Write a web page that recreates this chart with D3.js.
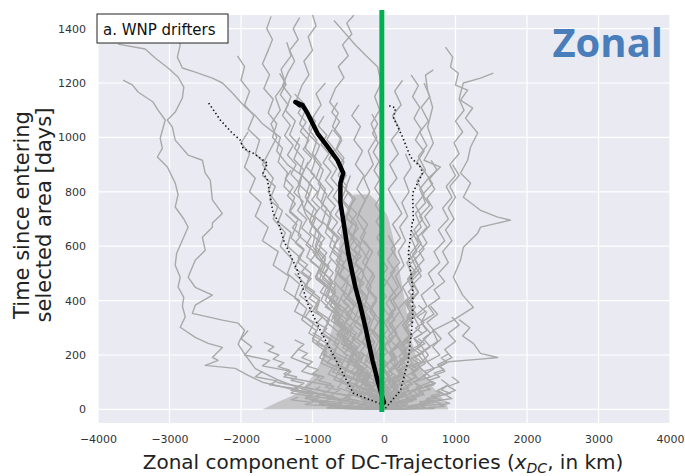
<!DOCTYPE html>
<html>
<head>
<meta charset="utf-8">
<script src="https://d3js.org/d3.v7.min.js"></script>
<style>
  body { margin: 0; background: #ffffff; }
  text { font-family: "DejaVu Sans", sans-serif; }
</style>
</head>
<body>
<div id="chart"></div>
<script>
// Axis ticks
var xTicks = [-4000, -3000, -2000, -1000, 0, 1000, 2000, 3000, 4000];
var yTicks = [0, 200, 400, 600, 800, 1000, 1200, 1400];

// Mean trajectory [x km, days]
var meanLine = [[0, 25], [-40, 60], [-90, 107], [-160, 180], [-210, 240], [-260, 302], [-330, 380],
  [-400, 449], [-450, 510], [-500, 574], [-570, 696], [-610, 760], [-610, 832], [-570, 869],
  [-650, 916], [-800, 970], [-930, 1015], [-1070, 1089], [-1140, 1119], [-1240, 1130], [-1180, 1118]];

// Dotted envelope lines
var lowLine = [[0, 15], [-430, 60], [-650, 170], [-890, 290], [-1070, 390], [-1210, 510], [-1400, 620],
  [-1490, 696], [-1550, 720], [-1630, 843], [-1690, 869], [-1630, 905], [-1830, 942], [-1970, 960],
  [-2010, 990], [-2120, 1015], [-2290, 1064], [-2470, 1133]];
var highLine = [[20, 4], [230, 70], [340, 180], [400, 328], [400, 449], [340, 574], [400, 696],
  [410, 696], [400, 795], [540, 869], [510, 891], [370, 928], [260, 1001], [135, 1071], [160, 1108],
  [50, 1119]];

// Where the trajectories overlap into a solid gray mass [days, west km, east km]
var denseCore = [[0, -1700, 900], [25, -1500, 860], [55, -1250, 780], [95, -1080, 640], [150, -930, 520],
  [220, -830, 420], [340, -700, 330], [460, -700, 250], [560, -650, 180], [650, -600, 110],
  [720, -540, 30], [790, -420, -200]];

// Individual drifter trajectories [x km, days]
var drifters = [
  // far west
  [[0,0],[-300,20],[-600,35],[-900,55],[-1300,75],[-1700,100],[-1900,125],[-2080,151],[-2500,162],[-2320,180],[-2400,191],[-2260,228],[-2460,243],[-2640,265],[-2850,302],[-2780,340],[-2820,380],[-2800,412],[-2880,450],[-2850,486],[-2920,530],[-2900,574],[-2820,622],[-2740,670],[-2800,700],[-2920,744],[-2880,790],[-2920,832],[-3030,891],[-3170,928],[-3100,960],[-3130,997],[-3060,1064],[-3160,1100],[-3230,1130],[-3440,1167],[-3520,1193],[-3650,1211]],
  [[0,0],[-400,25],[-800,50],[-1200,80],[-1500,110],[-1800,150],[-1940,200],[-2040,240],[-1950,291],[-2040,317],[-2260,328],[-2680,353],[-2640,383],[-2400,420],[-2640,449],[-2740,486],[-2640,548],[-2500,585],[-2540,633],[-2400,670],[-2400,685],[-2260,720],[-2400,770],[-2430,843],[-2500,869],[-2540,916],[-2740,935],[-2920,990],[-2960,1038],[-3030,1064],[-2920,1093],[-2820,1145],[-2800,1185],[-2880,1222],[-3020,1255],[-3200,1292],[-3340,1325],[-3720,1343]],
  [[0,0],[-150,30],[-80,60],[-300,100],[-220,140],[-450,180],[-380,230],[-600,280],[-520,330],[-750,380],[-680,430],[-900,480],[-820,530],[-1000,600],[-950,660],[-1100,720],[-1200,800],[-1150,860],[-1350,900],[-1500,950],[-1450,1000],[-1700,1050],[-1800,1080],[-1940,1111],[-2120,1163],[-2260,1200],[-2400,1218],[-2640,1240],[-2820,1255],[-2890,1295],[-2850,1340],[-2900,1380]],
  [[0,0],[-250,25],[-180,50],[-450,75],[-380,105],[-650,135],[-580,170],[-850,200],[-780,240],[-1050,280],[-980,320],[-1250,360],[-1180,400],[-1400,440],[-1330,490],[-1550,530],[-1480,580],[-1700,620],[-1620,670],[-1800,710],[-1720,760],[-1880,800],[-1800,850],[-1950,890],[-1880,940],[-2000,980],[-1900,1020]],
  [[0,0],[-500,10],[-400,25],[-800,40],[-700,60],[-1100,80],[-1000,100],[-1400,120],[-1300,140],[-1700,160],[-1600,180],[-1950,200],[-1850,230],[-2000,260],[-1900,290]],
  [[0,0],[-700,8],[-600,18],[-1000,30],[-900,45],[-1300,60],[-1200,75],[-1600,90],[-1500,105],[-1800,120],[-1700,140]],
  // upper west crowd
  [[0,0],[-120,30],[-60,60],[-250,90],[-200,130],[-420,160],[-380,200],[-560,240],[-500,280],[-700,320],[-650,360],[-820,400],[-760,440],[-950,480],[-900,520],[-1080,560],[-1020,600],[-1200,640],[-1150,690],[-1320,730],[-1250,780],[-1400,820],[-1350,870],[-1480,910],[-1420,960],[-1560,1000],[-1500,1050],[-1620,1090],[-1550,1140],[-1680,1180],[-1600,1230],[-1700,1270],[-1620,1320],[-1560,1360],[-1640,1400],[-1580,1445]],
  [[0,0],[80,25],[-60,50],[40,80],[-150,110],[-80,150],[-260,180],[-200,220],[-380,260],[-300,300],[-480,340],[-420,380],[-560,420],[-500,470],[-680,510],[-600,560],[-760,600],[-700,650],[-860,690],[-800,740],[-940,780],[-880,830],[-1020,870],[-960,920],[-1100,960],[-1050,1010],[-1180,1050],[-1100,1100],[-1220,1140],[-1150,1190],[-1050,1230],[-1120,1280],[-1000,1320],[-1060,1370],[-950,1410],[-1000,1450]],
  [[0,0],[-50,40],[50,80],[-80,120],[20,170],[-150,210],[-60,260],[-200,300],[-120,350],[-260,400],[-180,450],[-300,500],[-220,550],[-340,600],[-260,650],[-380,700],[-300,750],[-200,800],[-280,850],[-150,900],[-220,950],[-100,1000],[-180,1050],[-60,1100],[-130,1150],[-40,1200],[-90,1260],[-250,1300],[-400,1340],[-600,1400],[-700,1430]],
  [[0,0],[-200,20],[-100,45],[-350,70],[-300,100],[-550,130],[-480,170],[-700,200],[-650,240],[-850,280],[-780,320],[-950,360],[-900,400],[-1100,440],[-1050,480],[-1250,520],[-1180,560],[-1350,600],[-1300,650],[-1480,690],[-1420,730],[-1600,770],[-1520,820],[-1700,860],[-1650,900],[-1800,940],[-1740,990],[-1900,1030],[-1820,1080],[-1950,1120],[-1880,1170],[-2000,1210],[-1950,1260],[-2050,1300]],
  [[0,0],[-300,15],[-200,35],[-500,55],[-420,80],[-700,110],[-620,140],[-880,170],[-800,210],[-1000,250],[-950,290],[-1150,330],[-1080,370],[-1250,410],[-1180,460],[-1350,500],[-1280,550],[-1450,600],[-1380,650],[-1550,700],[-1480,750],[-1620,800],[-1550,850],[-1700,900],[-1600,950],[-1500,1000],[-1580,1050],[-1450,1100],[-1520,1150],[-1380,1200],[-1440,1250],[-1300,1300],[-1360,1350]],
  [[0,0],[100,20],[-50,45],[60,70],[-100,100],[0,140],[-200,170],[-120,210],[-300,250],[-220,290],[-420,330],[-350,370],[-520,410],[-450,450],[-620,490],[-560,540],[-720,580],[-650,630],[-800,670],[-740,720],[-880,760],[-820,810],[-950,850],[-880,900],[-1000,940],[-940,990],[-1050,1030],[-980,1080],[-880,1120],[-950,1160],[-820,1200]],
  [[0,0],[-80,30],[-200,55],[-150,85],[-350,115],[-280,150],[-450,180],[-400,220],[-580,260],[-520,300],[-680,340],[-620,380],[-780,420],[-720,470],[-880,510],[-820,560],[-960,600],[-900,650],[-1040,690],[-980,740],[-1100,780],[-1040,830],[-1180,870],[-1120,920],[-1250,960],[-1180,1000]],
  [[0,0],[-100,30],[0,60],[-150,100],[-60,140],[-200,180],[-120,220],[-280,260],[-200,300],[-340,340],[-260,380],[-400,420],[-320,460],[-460,500],[-380,550],[-520,590],[-440,640],[-560,680],[-480,730],[-600,770],[-520,820],[-640,860],[-560,910],[-680,950],[-600,1000],[-720,1040],[-640,1090],[-760,1130],[-680,1180],[-560,1220],[-640,1260],[-500,1300],[-580,1340],[-450,1380],[-520,1420],[-420,1450]],
  [[0,0],[-50,20],[-180,45],[-100,70],[-300,100],[-220,130],[-420,160],[-340,200],[-540,240],[-460,280],[-650,320],[-570,360],[-760,400],[-680,440],[-860,480],[-780,520],[-950,560],[-870,610],[-1040,650],[-960,700],[-1120,740],[-1040,790],[-1200,830],[-1120,880],[-1260,920],[-1180,970],[-1320,1010],[-1240,1060],[-1380,1100],[-1300,1150],[-1420,1190],[-1340,1240],[-1250,1280],[-1320,1320],[-1200,1360],[-1270,1400],[-1180,1440]],
  [[0,0],[-100,18],[-40,36],[-200,55],[-130,75],[-300,95],[-230,116],[-400,137],[-320,159],[-490,181],[-420,204],[-580,227],[-500,251],[-660,275],[-590,300],[-740,325],[-670,351],[-820,377],[-740,404],[-890,431],[-820,459],[-960,487],[-890,516],[-1030,545],[-950,575],[-1090,605],[-1020,636],[-1150,667],[-1080,699],[-1210,731],[-1130,764],[-1260,797],[-1180,831],[-1300,865],[-1230,900],[-1350,935],[-1270,971],[-1390,1007],[-1310,1044],[-1420,1081],[-1340,1119],[-1450,1157],[-1370,1196],[-1460,1235]],
  [[0,0],[-200,12],[-150,25],[-320,38],[-260,52],[-430,66],[-360,81],[-520,96],[-450,112],[-600,128],[-530,145],[-680,162],[-600,180],[-750,198],[-680,217],[-820,236],[-740,256],[-880,276],[-800,297],[-940,318],[-860,340],[-1000,362],[-920,385],[-1050,408],[-970,432],[-1100,456],[-1020,481],[-1150,506],[-1070,532],[-1200,558],[-1120,585],[-1240,612],[-1160,640],[-1280,668],[-1200,697],[-1320,726],[-1240,756],[-1350,786],[-1270,817],[-1380,848],[-1300,880]],
  // central cone
  [[0,0],[50,20],[-30,45],[80,70],[0,100],[120,130],[40,160],[150,200],[60,240],[180,280],[100,320],[220,360],[130,400],[250,440],[160,490],[280,530],[200,580],[300,620],[220,670],[330,710],[250,760],[350,800],[280,850],[380,890],[300,940]],
  [[0,0],[-60,25],[20,50],[-100,80],[-30,110],[-150,140],[-80,180],[-200,210],[-130,250],[-260,290],[-180,330],[-300,370],[-230,410],[-350,450],[-280,500],[-400,540],[-330,590],[-450,630],[-380,680],[-500,720],[-430,770],[-540,810],[-470,860]],
  [[0,0],[150,15],[60,35],[220,60],[130,90],[280,120],[180,150],[320,190],[230,230],[360,270],[260,310],[380,350],[300,390],[420,430],[330,480],[450,520],[360,570],[480,610],[380,660]],
  [[0,0],[-200,10],[-120,30],[-350,50],[-260,75],[-480,100],[-400,130],[-600,160],[-520,200],[-700,240],[-620,280],[-800,320],[-720,360],[-880,400],[-800,450],[-950,490],[-870,540],[-1000,580]],
  [[0,0],[300,10],[200,25],[450,40],[350,60],[550,80],[420,100],[600,130],[480,160],[620,200],[500,240],[650,280],[520,320],[600,360]],
  [[0,0],[-400,8],[-300,20],[-600,35],[-500,50],[-800,65],[-700,85],[-1000,100],[-900,120],[-1150,140],[-1050,165],[-1300,190],[-1200,220]],
  [[0,0],[500,5],[400,15],[700,25],[600,40],[850,55],[750,70],[900,90],[800,110]],
  [[0,0],[-600,5],[-500,12],[-900,20],[-800,30],[-1100,40],[-1000,55],[-1300,70],[-1200,85],[-1500,100]],
  [[0,0],[200,20],[100,40],[-20,70],[80,100],[-50,130],[40,170],[-100,210],[0,250],[-150,290],[-60,330],[-200,370],[-100,410],[-250,450],[-150,500],[-300,540],[-200,590],[-330,630],[-230,680],[-360,720],[-260,770],[-380,810],[-280,860],[-400,900],[-300,950],[-420,990],[-330,1040],[-450,1080],[-350,1120]],
  [[0,0],[-100,15],[-250,35],[-180,60],[-400,85],[-330,115],[-550,145],[-470,180],[-700,210],[-620,250],[-850,290],[-760,330],[-980,370],[-900,410],[-1100,450],[-1020,500],[-1200,540],[-1120,590],[-1300,630],[-1220,680],[-1380,720]],
  [[0,0],[80,10],[250,25],[180,40],[380,60],[300,85],[480,110],[400,140],[580,170],[480,200],[650,230],[550,260],[700,290],[600,320],[750,350],[650,380]],
  [[0,0],[-30,20],[-150,40],[-80,65],[-280,90],[-200,120],[-380,150],[-300,190],[-480,230],[-400,270],[-560,310],[-480,350],[-640,390],[-560,430],[-700,470],[-620,520],[-760,560],[-680,610],[-820,650],[-740,700],[-880,740],[-800,790],[-920,830],[-850,880],[-980,920],[-900,970],[-1050,1010],[-960,1060],[-1100,1100]],
  [[0,0],[100,30],[20,60],[150,90],[60,130],[200,170],[100,210],[240,250],[130,290],[50,330],[160,370],[70,410],[200,450],[90,500],[220,540],[100,590],[230,630],[120,680],[250,720],[140,770],[60,810],[180,850],[80,900],[200,940],[100,990],[220,1030],[120,1080],[240,1120],[150,1170],[260,1210]],
  [[0,0],[-350,10],[-250,25],[-500,40],[-420,60],[-650,80],[-560,105],[-780,130],[-700,160],[-900,190],[-820,230],[-1000,260],[-920,300],[-1100,340],[-1000,380],[-1180,420],[-1100,460],[-1250,500]],
  [[0,0],[40,40],[-40,80],[60,120],[-20,160],[-120,200],[-40,240],[-160,280],[-80,320],[-200,360],[-100,400],[-230,440],[-130,490],[-260,530],[-160,580],[-280,620]],
  [[0,0],[600,5],[500,12],[800,20],[700,30],[950,40],[850,55],[1000,70],[900,85],[1050,100],[950,120]],
  [[0,0],[-800,5],[-700,12],[-1100,18],[-1000,26],[-1300,35],[-1200,45]],
  [[0,0],[250,8],[150,20],[400,30],[300,45],[550,60],[450,80],[650,100],[550,125],[700,150],[600,175],[780,200],[680,230],[800,260],[700,290]],
  [[0,0],[-150,20],[-50,40],[-250,60],[-180,90],[-380,120],[-300,150],[-500,180],[-420,220],[-620,260],[-540,300],[-720,340],[-640,380],[-820,420],[-740,460],[-900,500],[-820,550],[-960,590],[-880,640],[-1020,680],[-940,730],[-1080,770],[-1000,820],[-1150,860],[-1060,910]],
  [[0,0],[120,20],[60,40],[200,65],[120,95],[300,125],[200,160],[350,195],[260,230],[400,270],[300,310],[450,350],[350,390],[480,430],[380,480],[500,520],[400,570],[520,610],[420,660],[540,700],[440,750],[560,790],[460,840],[580,880],[480,930],[600,970],[500,1020],[620,1060],[520,1110],[640,1150],[560,1200]],
  [[0,0],[-90,12],[-40,25],[-160,38],[-110,52],[-230,66],[-170,80],[-290,95],[-240,110],[-350,126],[-300,142],[-420,158],[-360,175],[-470,192],[-410,210],[-520,228],[-460,246],[-570,265],[-510,284],[-620,304],[-560,324],[-660,345],[-600,366],[-700,388],[-640,410],[-740,432],[-680,455],[-770,478],[-710,502],[-800,526],[-740,550]],
  [[0,0],[60,12],[10,24],[90,37],[30,50],[120,64],[50,78],[140,93],[70,108],[160,124],[80,140],[170,157],[90,174],[180,192],[100,210],[190,229],[110,248],[60,268],[140,288],[70,309],[150,330],[80,352],[160,374],[90,397],[170,420],[100,444]],
  [[0,0],[-180,8],[-120,18],[-300,28],[-240,40],[-420,52],[-350,65],[-530,78],[-460,92],[-620,107],[-560,122],[-720,138],[-650,154],[-800,171],[-730,188],[-870,206],[-800,224],[-940,243],[-870,262],[-1000,282]],
  [[0,0],[-30,15],[40,30],[-50,46],[20,62],[-80,78],[-10,95],[-110,112],[-40,130],[-140,148],[-70,166],[-170,185],[-100,204],[-200,224],[-130,244],[-230,264],[-160,285],[-260,306],[-190,328],[-290,350],[-220,372],[-320,395],[-250,418],[-350,441],[-280,465],[-380,489],[-300,513],[-400,538],[-320,563],[-420,588],[-340,614],[-440,640],[-360,666],[-460,692],[-380,719],[-480,746],[-400,773],[-500,800]],
  [[0,0],[120,8],[70,17],[200,26],[140,36],[280,46],[210,57],[340,68],[270,80],[400,92],[320,105],[450,118],[370,132],[480,146],[400,161],[520,176],[430,192],[550,208],[460,225],[570,242],[480,260]],
  [[0,0],[-260,6],[-200,14],[-420,22],[-350,31],[-560,40],[-480,50],[-700,60],[-620,71],[-820,82],[-740,94],[-920,106],[-840,119],[-1000,132],[-920,146],[-1080,160],[-1000,175],[-1150,190],[-1070,206],[-1200,222],[-1120,239],[-1250,256]],
  [[0,0],[-60,14],[-10,28],[-120,43],[-60,58],[-180,74],[-110,90],[-240,107],[-170,124],[-300,142],[-230,160],[-350,179],[-280,198],[-400,218],[-330,238],[-450,259],[-380,280],[-490,302],[-420,324],[-530,347],[-460,370],[-570,394],[-500,418],[-600,443],[-530,468],[-640,494],[-560,520],[-670,547],[-590,574],[-700,602],[-620,630],[-730,659],[-650,688],[-760,718],[-680,748],[-790,779],[-710,810],[-820,842],[-740,874],[-850,907],[-770,940],[-880,974],[-800,1008],[-920,1043],[-840,1078]],
  [[0,0],[30,15],[-20,30],[50,46],[-10,62],[70,79],[0,96],[90,114],[20,132],[-40,151],[40,170],[-30,190],[50,210],[-20,231],[60,252],[-10,274],[70,296],[0,319],[80,342],[10,366],[-50,390],[30,415],[-40,440],[40,466],[-30,492],[50,519],[-20,546],[-90,574],[-20,602],[-100,631],[-30,660],[-110,690],[-40,720],[-120,751],[-50,782],[-130,814],[-60,846],[-140,879],[-70,912],[-150,946],[-80,980],[-160,1015],[-90,1050],[-170,1086]],
  [[0,0],[-450,5],[-380,11],[-650,17],[-580,24],[-820,31],[-740,39],[-960,47],[-880,56],[-1080,65],[-1000,75],[-1200,85],[-1120,96],[-1300,107],[-1220,119],[-1400,131],[-1320,144],[-1480,157],[-1400,171],[-1550,185],[-1470,200],[-1620,215],[-1540,231],[-1680,247]],
  [[0,0],[200,6],[140,13],[330,20],[260,28],[450,36],[380,45],[560,54],[480,64],[650,74],[570,85],[720,96],[640,108],[780,120],[700,133],[840,146],[760,160],[880,174],[800,189],[900,204]],
  [[0,0],[-120,10],[-60,21],[-200,32],[-130,44],[-270,56],[-200,69],[-340,82],[-270,96],[-400,110],[-330,125],[-460,140],[-390,156],[-510,172],[-440,189],[-560,206],[-490,224],[-600,242],[-530,261],[-640,280],[-570,300],[-680,320],[-610,341],[-720,362],[-650,384],[-760,406],[-690,429],[-800,452],[-730,476],[-840,500],[-770,525],[-880,550],[-800,576],[-910,602],[-830,629],[-940,656],[-860,684],[-980,712],[-900,741],[-1010,770],[-930,800],[-1050,830],[-970,861],[-1090,892],[-1010,924],[-1130,956],[-1050,989],[-1170,1022],[-1090,1056],[-1200,1090],[-1120,1125],[-1250,1160]],
  [[0,0],[80,12],[30,25],[140,38],[80,52],[190,66],[130,81],[240,96],[170,112],[280,128],[210,145],[310,162],[240,180],[340,198],[270,217],[360,236],[290,256],[380,276],[300,297],[400,318],[320,340],[410,362],[330,385],[420,408],[340,432],[430,456],[350,481],[440,506],[360,532],[450,558]],
  [[0,0],[-350,4],[-300,9],[-500,14],[-440,20],[-640,26],[-570,33],[-760,40],[-690,48],[-870,56],[-800,65],[-960,74],[-890,84]],
  [[0,0],[-20,20],[-100,40],[-50,60],[-170,80],[-110,101],[-230,122],[-160,144],[-280,166],[-210,189],[-330,212],[-260,236],[-380,260],[-300,285],[-420,310],[-350,336],[-460,362],[-390,389],[-500,416],[-430,444],[-540,472],[-470,501],[-580,530],[-500,560],[-610,590],[-540,621],[-650,652],[-570,684],[-680,716],[-600,749],[-710,782],[-630,816],[-740,850],[-660,885],[-770,920],[-690,956],[-800,992],[-720,1029]],
  [[0,0],[400,4],[330,9],[550,14],[480,20],[650,27],[580,34],[740,42],[660,50],[800,59],[720,68]],
  [[0,0],[-80,10],[-30,20],[-150,31],[-90,43],[-210,55],[-150,68],[-270,81],[-200,95],[-320,109],[-250,124],[-370,139],[-290,155],[-410,171],[-330,188],[-450,205],[-370,223],[-480,241],[-400,260],[-510,279],[-430,299],[-540,319],[-460,340],[-570,361],[-490,383],[-600,405]],
  [[0,0],[150,10],[90,20],[230,31],[160,43],[300,55],[220,68],[350,81],[270,95],[400,109],[310,124],[440,139],[350,155],[470,171],[380,188],[500,205],[400,223],[520,241],[420,260],[540,279],[440,299],[560,319],[460,340],[580,361],[480,383]],
  [[0,0],[-550,3],[-480,7],[-750,11],[-680,16],[-900,21],[-830,27],[-1020,33],[-950,40],[-1100,47]],
  [[0,0],[700,3],[620,7],[850,11],[780,16],[920,22],[850,28]],
  [[0,0],[-40,12],[30,24],[-60,37],[10,50],[-90,64],[-20,78],[-120,93],[-50,108],[-150,124],[-80,140],[-180,157],[-110,174],[-210,192],[-140,210],[-240,229],[-170,248],[-270,268],[-200,288],[-300,309],[-230,330],[-330,352],[-260,374],[-360,397],[-290,420],[-390,444],[-320,468],[-420,493],[-350,518],[-450,544],[-380,570],[-480,597],[-410,624],[-510,652],[-440,680],[-540,709],[-470,738],[-570,768],[-500,798],[-600,829],[-530,860],[-630,892],[-560,924],[-660,957],[-590,990],[-700,1024],[-620,1058],[-730,1093],[-650,1128]],
  // east side
  [[0,0],[150,20],[80,40],[300,60],[220,90],[450,120],[380,150],[600,180],[520,210],[750,250],[680,290],[970,328],[1250,375],[1100,420],[970,486],[1070,548],[1110,596],[1310,648],[1350,670],[1770,696],[1590,707],[1350,732],[1110,780],[1210,832],[1070,869],[1170,916],[1210,964],[1310,1016],[1140,1071],[1240,1108],[1070,1137],[1170,1174],[1000,1192],[1040,1236],[930,1259],[960,1295],[860,1332]],
  [[0,0],[100,25],[30,50],[200,80],[120,110],[300,140],[220,180],[400,220],[320,260],[500,300],[420,340],[600,380],[520,420],[700,460],[620,500],[780,540],[700,580],[850,620],[760,660],[900,700],[820,740],[950,780],[870,820],[1000,860],[920,900],[1050,940],[980,980],[1100,1020],[1000,1060],[1120,1100],[1050,1140],[1070,1163],[1110,1200],[1350,1218],[1530,1236]],
  [[0,0],[60,30],[-20,60],[100,90],[30,130],[160,170],[80,210],[220,250],[140,290],[280,330],[200,370],[340,410],[260,450],[400,490],[320,540],[460,580],[380,630],[520,670],[440,720],[580,760],[500,810],[620,850],[790,891],[560,916],[690,979],[610,1038],[680,1111],[610,1174],[580,1229],[690,1248]],
  [[0,0],[200,10],[120,25],[350,40],[280,60],[500,80],[420,100],[650,120],[560,140],[800,160],[900,175],[1350,185],[1590,191],[1350,206],[1250,243],[1100,270],[1200,300],[1050,330]],
  [[0,0],[400,5],[300,12],[600,20],[500,28],[790,36],[700,45],[930,59],[800,72],[900,90]],
  [[0,0],[100,15],[50,35],[200,55],[120,80],[300,110],[220,140],[400,170],[320,200],[500,230],[420,260],[600,290],[520,320],[700,350],[620,380],[780,410],[700,440],[850,470],[760,500],[900,540],[820,580],[950,620],[860,660],[980,700],[900,740],[1000,780],[920,820],[1050,860],[960,900]],
  [[0,0],[80,20],[0,45],[150,70],[60,100],[220,130],[140,160],[300,190],[200,230],[350,270],[260,310],[420,350],[320,390],[480,430],[380,470],[520,510],[430,550],[560,590],[460,630],[600,670],[500,710],[640,750],[540,790],[680,830],[580,870],[460,910],[560,950],[440,990],[520,1030],[420,1070],[500,1110],[400,1150],[480,1190],[380,1230]],
  [[0,0],[300,15],[200,30],[500,50],[400,70],[700,90],[600,115],[850,140],[750,165],[950,190],[850,220],[1000,250],[900,280],[1050,310],[950,340]],
  [[0,0],[50,15],[-40,35],[70,60],[-20,90],[90,120],[0,150],[110,190],[10,230],[120,270],[20,310],[130,350],[30,390],[140,430],[40,470],[150,510],[50,550],[160,590],[60,640]],
  [[0,0],[50,20],[150,40],[90,61],[200,82],[130,104],[240,126],[170,149],[280,172],[210,196],[320,220],[250,245],[360,270],[290,296],[400,322],[330,349],[440,376],[370,404],[480,432],[410,461],[520,490],[450,520],[560,550],[490,581],[600,612],[530,644],[640,676],[570,709],[680,742],[600,776],[710,810],[630,845],[740,880],[660,916]]
];

// Set up the canvas
var svgWidth = 685;
var svgHeight = 476;

var margin = { top: 15, right: 15, bottom: 53, left: 98 };
var width = svgWidth - margin.left - margin.right;
var height = svgHeight - margin.top - margin.bottom;

var svg = d3.select("#chart")
  .append("svg")
  .attr("width", svgWidth)
  .attr("height", svgHeight);

var chartGroup = svg.append("g")
  .attr("transform", `translate(${margin.left}, ${margin.top})`);

var xScale = d3.scaleLinear().domain([-4000, 4000]).range([0, width]);
var yScale = d3.scaleLinear().domain([-50, 1450]).range([height, 0]);

// seaborn-style background
chartGroup.append("rect")
  .attr("width", width)
  .attr("height", height)
  .attr("fill", "#eaeaf2");

chartGroup.append("clipPath")
  .attr("id", "plotClip")
  .append("rect")
  .attr("width", width)
  .attr("height", height);

// grid lines
chartGroup.append("g")
  .selectAll("line")
  .data(xTicks)
  .enter()
  .append("line")
  .attr("x1", d => xScale(d))
  .attr("x2", d => xScale(d))
  .attr("y1", 0)
  .attr("y2", height)
  .attr("stroke", "#ffffff")
  .attr("stroke-width", 1.2);

chartGroup.append("g")
  .selectAll("line")
  .data(yTicks)
  .enter()
  .append("line")
  .attr("x1", 0)
  .attr("x2", width)
  .attr("y1", d => yScale(d))
  .attr("y2", d => yScale(d))
  .attr("stroke", "#ffffff")
  .attr("stroke-width", 1.2);

// axes without tick marks
var bottomAxis = d3.axisBottom(xScale).tickValues(xTicks).tickSize(0).tickPadding(12)
  .tickFormat(d => d < 0 ? "\u2212" + Math.abs(d) : d);
var leftAxis = d3.axisLeft(yScale).tickValues(yTicks).tickSize(0).tickPadding(12)
  .tickFormat(d3.format("d"));

var xAxis = chartGroup.append("g")
  .attr("transform", `translate(0, ${height})`)
  .call(bottomAxis);
var yAxis = chartGroup.append("g")
  .call(leftAxis);

[xAxis, yAxis].forEach(function (ax) {
  ax.select(".domain").remove();
  ax.selectAll("text")
    .attr("font-family", "DejaVu Sans, sans-serif")
    .attr("font-size", "11px")
    .attr("fill", "#333333");
});

var line = d3.line()
  .x(d => xScale(d[0]))
  .y(d => yScale(d[1]));

var plot = chartGroup.append("g").attr("clip-path", "url(#plotClip)");

// solid mass where many trajectories overlap
var coreArea = d3.area()
  .curve(d3.curveMonotoneY)
  .y(d => yScale(d[0]))
  .x0(d => xScale(d[1]))
  .x1(d => xScale(d[2]));

plot.append("path")
  .datum(denseCore)
  .attr("d", coreArea)
  .attr("fill", "#ababab")
  .attr("opacity", 0.6);

// gray drifter trajectories
plot.selectAll(".drifter")
  .data(drifters)
  .enter()
  .append("path")
  .attr("class", "drifter")
  .attr("d", line)
  .attr("fill", "none")
  .attr("stroke", "#a9a9a9")
  .attr("stroke-width", 1.4)
  .attr("stroke-linejoin", "round");

// dotted envelopes
[lowLine, highLine].forEach(function (d) {
  plot.append("path")
    .datum(d)
    .attr("d", line)
    .attr("fill", "none")
    .attr("stroke", "#111111")
    .attr("stroke-width", 1.6)
    .attr("stroke-dasharray", "1.4,2.6");
});

// mean trajectory
plot.append("path")
  .datum(meanLine)
  .attr("d", line)
  .attr("fill", "none")
  .attr("stroke", "#000000")
  .attr("stroke-width", 4.5)
  .attr("stroke-linejoin", "round")
  .attr("stroke-linecap", "round");

// green zero line (extends above the axes)
chartGroup.append("line")
  .attr("x1", xScale(-30))
  .attr("x2", xScale(-30))
  .attr("y1", yScale(1468))
  .attr("y2", yScale(-10))
  .attr("stroke", "#00b050")
  .attr("stroke-width", 5);

// panel label box
var label = chartGroup.append("g").attr("transform", "translate(-1, -1)");
label.append("rect")
  .attr("width", 131)
  .attr("height", 29)
  .attr("fill", "#ffffff")
  .attr("stroke", "#222222")
  .attr("stroke-width", 1);
label.append("text")
  .attr("x", 6)
  .attr("y", 21)
  .attr("font-size", "15px")
  .attr("fill", "#111111")
  .text("a. WNP drifters");

// big component title
chartGroup.append("text")
  .attr("x", width - 7)
  .attr("y", 42)
  .attr("text-anchor", "end")
  .attr("font-weight", "bold")
  .attr("font-size", "40px")
  .attr("fill", "#4a7ebb")
  .style("font-family", "'Open Sans', sans-serif")
  .text("Zonal");

// axis titles
var yTitle = svg.append("text")
  .attr("transform", "rotate(-90)")
  .attr("text-anchor", "middle")
  .attr("font-size", "21px")
  .attr("fill", "#222222");
yTitle.append("tspan").attr("x", -215).attr("y", 29).text("Time since entering");
yTitle.append("tspan").attr("x", -215).attr("y", 51).text("selected area [days]");

var xTitle = svg.append("text")
  .attr("x", 383)
  .attr("y", 469)
  .attr("text-anchor", "middle")
  .attr("font-size", "20px")
  .attr("fill", "#222222");
xTitle.append("tspan").text("Zonal component of DC-Trajectories (");
xTitle.append("tspan").attr("font-style", "italic").text("x");
xTitle.append("tspan").attr("font-style", "italic").attr("font-size", "14px").attr("dy", 4).text("DC");
xTitle.append("tspan").attr("dy", -4).text(", in km)");
</script>
</body>
</html>
